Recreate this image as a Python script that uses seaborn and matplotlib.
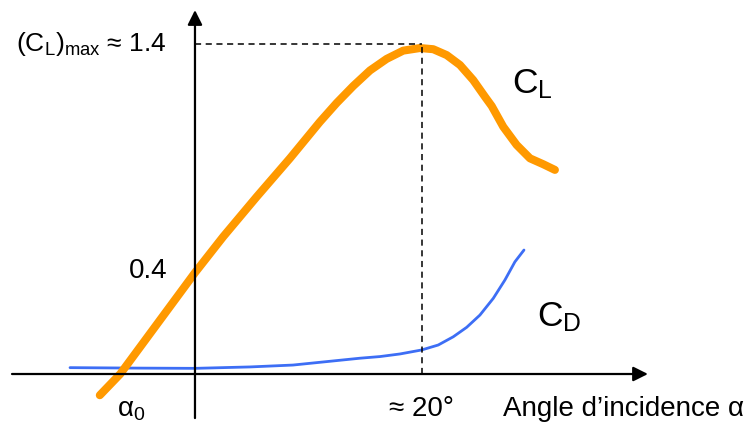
import numpy as np
import pandas as pd
import matplotlib
matplotlib.use("Agg")
import matplotlib.pyplot as plt
import seaborn as sns

# ---- data ----
cl_alpha = [-8.4, -6.6, -3.3, 0.0, 2.5, 5.45, 8.38, 11.03, 12.51, 13.97, 15.45, 16.92,
            18.38, 19.86, 21.03, 22.22, 23.39, 24.56, 25.60, 26.19, 27.21, 28.39,
            29.57, 30.74, 31.77]
cl_values = [-0.09, 0.0, 0.215, 0.43, 0.583, 0.752, 0.915, 1.07, 1.150, 1.222, 1.288, 1.337,
             1.372, 1.383, 1.378, 1.353, 1.311, 1.247, 1.176, 1.137, 1.049, 0.972,
             0.915, 0.890, 0.866]

cd_alpha = [-11.03, -5.0, 0.0, 4.85, 8.65, 14.56, 16.33, 18.09, 20.01, 21.47, 22.80,
            23.98, 25.15, 26.33, 27.36, 28.24, 29.04]
cd_values = [0.027, 0.025, 0.024, 0.030, 0.038, 0.067, 0.074, 0.085, 0.102, 0.123, 0.158,
             0.198, 0.250, 0.321, 0.399, 0.476, 0.526]

cl_max = 1.4
alpha_max = 20.0

sns.set_theme(style="white")
plt.rcParams['font.family'] = ['Liberation Sans', 'DejaVu Sans']
plt.rcParams['mathtext.fontset'] = 'custom'
plt.rcParams['mathtext.rm'] = 'Liberation Sans'
plt.rcParams['mathtext.it'] = 'Liberation Sans:italic'

fig = plt.figure(figsize=(7.5, 4.26), dpi=100)
ax = fig.add_axes([0, 0, 1, 1])
ax.set_xlim(-17.21, 48.99)
ax.set_ylim(-0.2206, 1.5868)
ax.axis('off')

df_cl = pd.DataFrame({"alpha": cl_alpha, "value": cl_values})
df_cd = pd.DataFrame({"alpha": cd_alpha, "value": cd_values})

sns.lineplot(data=df_cd, x="alpha", y="value", sort=False, color="#3d6ef5",
             linewidth=2.0, ax=ax, solid_joinstyle="round")
sns.lineplot(data=df_cl, x="alpha", y="value", sort=False, color="#ff9900",
             linewidth=5.8, ax=ax, solid_capstyle="round", solid_joinstyle="round")

# dashed guide lines
ax.plot([0, alpha_max], [cl_max, cl_max], ls=(0, (4, 3)), lw=1.1, color="black")
ax.plot([alpha_max, alpha_max], [0, cl_max], ls=(0, (4, 3)), lw=1.1, color="black")

# axes with arrows
ax.annotate("", xy=(39.98, 0), xytext=(-16.15, 0),
            arrowprops=dict(arrowstyle="-|>", lw=1.6, color="black",
                            mutation_scale=22, shrinkA=0, shrinkB=0))
ax.annotate("", xy=(0, 1.544), xytext=(0, -0.187),
            arrowprops=dict(arrowstyle="-|>", lw=1.6, color="black",
                            mutation_scale=22, shrinkA=0, shrinkB=0))


def px(x, y):
    return x / 750.0, 1 - y / 426.0


fs = 20
ax.text(*px(167, 44), r"(C$_\mathrm{L}$)$_\mathrm{max}$ ≈ 1.4", transform=ax.transAxes,
        ha="right", va="center", fontsize=19, color="black")
ax.text(*px(168, 271), "0.4", transform=ax.transAxes, ha="right", va="center",
        fontsize=fs, color="black")
ax.text(*px(117, 410), r"α$_\mathrm{0}$", transform=ax.transAxes, ha="left", va="center",
        fontsize=fs, color="black")
ax.text(*px(421, 409), "≈ 20°", transform=ax.transAxes, ha="center", va="center",
        fontsize=fs, color="black")
ax.text(*px(503, 409), "Angle d’incidence α", transform=ax.transAxes, ha="left",
        va="center", fontsize=fs, color="black")
ax.text(*px(512, 84), r"C$_\mathrm{L}$", transform=ax.transAxes, ha="left", va="center",
        fontsize=25.5, color="black")
ax.text(*px(537, 317), r"C$_\mathrm{D}$", transform=ax.transAxes, ha="left", va="center",
        fontsize=25.5, color="black")

fig.savefig("out.png", dpi=100)
